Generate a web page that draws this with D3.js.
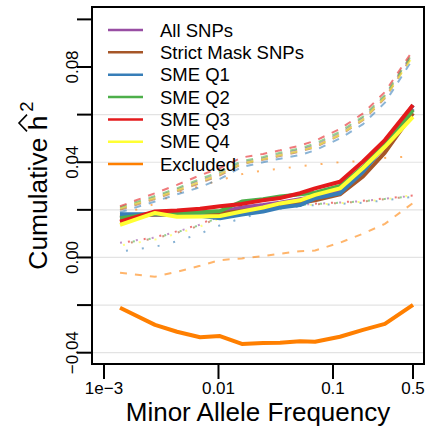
<!DOCTYPE html>
<html><head><meta charset="utf-8">
<script src="https://cdn.jsdelivr.net/npm/d3@7"></script>
<style>body{margin:0;background:#fff;}svg{display:block;font-family:"Liberation Sans",Arial,sans-serif;}</style>
</head><body><svg id="c" width="426" height="433"></svg>
<script>
// MAF bin positions
const maf = [0.00138,0.00279,0.00434,0.0069,0.0103,0.016,0.0245,0.0345,0.0515,0.0697,0.115,0.183,0.284,0.5];
const seriesNames = ["All SNPs","Strict Mask SNPs","SME Q1","SME Q2","SME Q3","SME Q4","Excluded"];
const seriesColors = ["#984EA3","#A65628","#377EB8","#4DAF4A","#E41A1C","#FFFF33","#FF7F00"];
// solid (total)
const solidAll    = [0.0165,0.0183,0.0185,0.0185,0.0190,0.0210,0.0220,0.0230,0.0245,0.0255,0.0285,0.0370,0.0470,0.0625];
const solidStrict = [0.0170,0.0180,0.0178,0.0180,0.0185,0.0195,0.0205,0.0215,0.0230,0.0240,0.0265,0.0340,0.0440,0.0606];
const solidQ1     = [0.0181,0.0181,0.0178,0.0175,0.0165,0.0180,0.0193,0.0210,0.0220,0.0249,0.0270,0.0360,0.0470,0.0640];
const solidQ2     = [0.0165,0.0185,0.0185,0.0190,0.0195,0.0235,0.0245,0.0256,0.0265,0.0272,0.0300,0.0380,0.0480,0.0620];
const solidQ3     = [0.0150,0.0193,0.0197,0.0205,0.0215,0.0225,0.0240,0.0250,0.0270,0.0290,0.0318,0.0403,0.0493,0.0640];
const solidQ4     = [0.0137,0.0187,0.0171,0.0172,0.0174,0.0193,0.0210,0.0227,0.0240,0.0263,0.0290,0.0376,0.0465,0.0591];
const solidExcl   = [-0.0211,-0.0283,-0.0312,-0.0335,-0.0330,-0.0363,-0.0359,-0.0358,-0.0352,-0.0354,-0.0333,-0.0304,-0.0279,-0.0199];
// dashed
const dashAll    = [0.0205,0.0252,0.0285,0.0322,0.0352,0.0398,0.0416,0.0433,0.0452,0.0470,0.0520,0.0585,0.0676,0.0858];
const dashStrict = [0.0200,0.0245,0.0278,0.0312,0.0345,0.0392,0.0410,0.0426,0.0445,0.0463,0.0513,0.0576,0.0668,0.0850];
const dashQ1     = [0.0190,0.0235,0.0265,0.0295,0.0330,0.0380,0.0400,0.0415,0.0430,0.0450,0.0500,0.0560,0.0650,0.0835];
const dashQ2     = [0.0210,0.0258,0.0290,0.0330,0.0360,0.0405,0.0422,0.0440,0.0458,0.0478,0.0528,0.0592,0.0682,0.0860];
const dashQ3     = [0.0215,0.0270,0.0305,0.0345,0.0375,0.0420,0.0435,0.0450,0.0470,0.0490,0.0540,0.0605,0.0695,0.0870];
const dashQ4     = [0.0205,0.0250,0.0282,0.0318,0.0350,0.0395,0.0413,0.0430,0.0448,0.0466,0.0516,0.0580,0.0672,0.0845];
const dashExcl   = [-0.0064,-0.0081,-0.0060,-0.0035,-0.0011,-0.0004,0.0006,0.0016,0.0026,0.0029,0.0062,0.0100,0.0141,0.0229];
// dotted
const dotAll    = [0.0062,0.0084,0.0108,0.0138,0.0172,0.0193,0.0208,0.0217,0.0222,0.0225,0.0231,0.0237,0.0247,0.0259];
const dotStrict = [0.0055,0.0080,0.0104,0.0134,0.0168,0.0190,0.0206,0.0215,0.0220,0.0223,0.0229,0.0235,0.0245,0.0257];
const dotQ1     = [0.0025,0.0045,0.0068,0.0100,0.0135,0.0165,0.0190,0.0205,0.0215,0.0220,0.0225,0.0230,0.0240,0.0255];
const dotQ2     = [0.0058,0.0082,0.0106,0.0136,0.0170,0.0192,0.0207,0.0216,0.0221,0.0224,0.0230,0.0236,0.0246,0.0258];
const dotQ3     = [0.0060,0.0085,0.0110,0.0140,0.0175,0.0195,0.0210,0.0218,0.0223,0.0226,0.0232,0.0238,0.0248,0.0260];
const dotQ4     = [0.0050,0.0075,0.0100,0.0130,0.0165,0.0188,0.0205,0.0214,0.0219,0.0222,0.0228,0.0234,0.0244,0.0262];
const dotExcl   = [0.0180,0.0225,0.0270,0.0300,0.0325,0.0350,0.0365,0.0373,0.0383,0.0390,0.0400,0.0405,0.0418,0.0425];

const yTicks = [-0.04,-0.02,0,0.02,0.04,0.06,0.08,0.10];
const yLabels = {"-0.04":"\u22120.04","0":"0.00","0.04":"0.04","0.08":"0.08"};
const gridVals = [-0.04,-0.02,0,0.02,0.04,0.06];
const xTicks = [0.001,0.01,0.1,0.5];
const xLabels = ["1e\u22123","0.01","0.1","0.5"];

const solids = [solidAll,solidStrict,solidQ1,solidQ2,solidQ3,solidQ4,solidExcl];
const dashes = [dashAll,dashStrict,dashQ1,dashQ2,dashQ3,dashQ4,dashExcl];
const dots   = [dotAll,dotStrict,dotQ1,dotQ2,dotQ3,dotQ4,dotExcl];

const svg = d3.select("#c");
const box = {l:92, r:424, t:7, b:364};
const x = d3.scaleLog().domain([0.001,0.5]).range([104,413]);
const y = d3.scaleLinear().domain([-0.04,0.08]).range([352.7,67]);

// grid
svg.append("g").selectAll("line").data(gridVals).join("line")
  .attr("x1",box.l).attr("x2",box.r).attr("y1",d=>y(d)).attr("y2",d=>y(d))
  .attr("stroke","#e3e3e3").attr("stroke-width",1.2);

const line = d3.line().x((d,i)=>x(maf[i])).y(d=>y(d));
const plot = svg.append("g");
const dotPhase = [0,5,10,3,8,13,0];
// dotted
dots.forEach((s,i)=>{
  plot.append("path").attr("d",line(s)).attr("fill","none")
    .attr("stroke",seriesColors[i]).attr("stroke-opacity",0.6).attr("stroke-width",2)
    .attr("stroke-dasharray","2,14").attr("stroke-dashoffset",dotPhase[i]);
});
// dashed
dashes.forEach((s,i)=>{
  plot.append("path").attr("d",line(s)).attr("fill","none")
    .attr("stroke",seriesColors[i]).attr("stroke-opacity",0.58).attr("stroke-width",2)
    .attr("stroke-dasharray","7,8");
});
// solid
solids.forEach((s,i)=>{
  plot.append("path").attr("d",line(s)).attr("fill","none")
    .attr("stroke",seriesColors[i]).attr("stroke-width",4).attr("stroke-linejoin","round");
});

// box
svg.append("rect").attr("x",box.l).attr("y",box.t).attr("width",box.r-box.l).attr("height",box.b-box.t)
  .attr("fill","none").attr("stroke","#000").attr("stroke-width",2);

// y axis ticks
const ya = svg.append("g");
ya.selectAll("line").data(yTicks).join("line")
  .attr("x1",box.l-15).attr("x2",box.l).attr("y1",d=>y(d)).attr("y2",d=>y(d))
  .attr("stroke","#000").attr("stroke-width",2);
ya.selectAll("text").data(yTicks.filter(d=>yLabels[String(+d.toFixed(2))]!==undefined)).join("text")
  .attr("transform",d=>`translate(78,${y(d)}) rotate(-90)`)
  .attr("text-anchor","middle").attr("font-size",17)
  .text(d=>yLabels[String(+d.toFixed(2))]);

// x axis ticks
const xa = svg.append("g");
xa.selectAll("line").data(xTicks).join("line")
  .attr("x1",d=>x(d)).attr("x2",d=>x(d)).attr("y1",box.b).attr("y2",box.b+15)
  .attr("stroke","#000").attr("stroke-width",2);
xa.selectAll("text").data(xTicks).join("text")
  .attr("x",d=>x(d)).attr("y",394).attr("text-anchor","middle").attr("font-size",17)
  .text((d,i)=>xLabels[i]);

// x title
svg.append("text").attr("x",(box.l+box.r)/2).attr("y",420.5).attr("text-anchor","middle")
  .attr("font-size",26).text("Minor Allele Frequency");

// y title with hat
const yt = svg.append("g").attr("transform",`translate(47,${(box.t+box.b)/2}) rotate(-90)`);
const tt = yt.append("text").attr("text-anchor","middle").attr("font-size",26.4);
tt.append("tspan").text("Cumulative h");
tt.append("tspan").attr("dx",4).attr("dy",-14).attr("font-size",18.5).text("2");
const hIdx = "Cumulative h".length-1;
const ext = tt.node().getExtentOfChar(hIdx);
const hx0 = ext.x-1, hx1 = ext.x+ext.width+1, htop = ext.y + ext.height*0.2;
yt.append("path")
  .attr("d",`M${hx0},${htop-2}L${(hx0+hx1)/2},${htop-10}L${hx1},${htop-2}`)
  .attr("fill","none").attr("stroke","#000").attr("stroke-width",1.6);

// legend
const lg = svg.append("g");
seriesNames.forEach((n,i)=>{
  const cy = 30 + i*22.35;
  lg.append("line").attr("x1",108).attr("x2",143).attr("y1",cy).attr("y2",cy)
    .attr("stroke",seriesColors[i]).attr("stroke-width",2.5);
  lg.append("text").attr("x",160).attr("y",cy+6.6).attr("font-size",18.5).text(n);
});
</script></body></html>
